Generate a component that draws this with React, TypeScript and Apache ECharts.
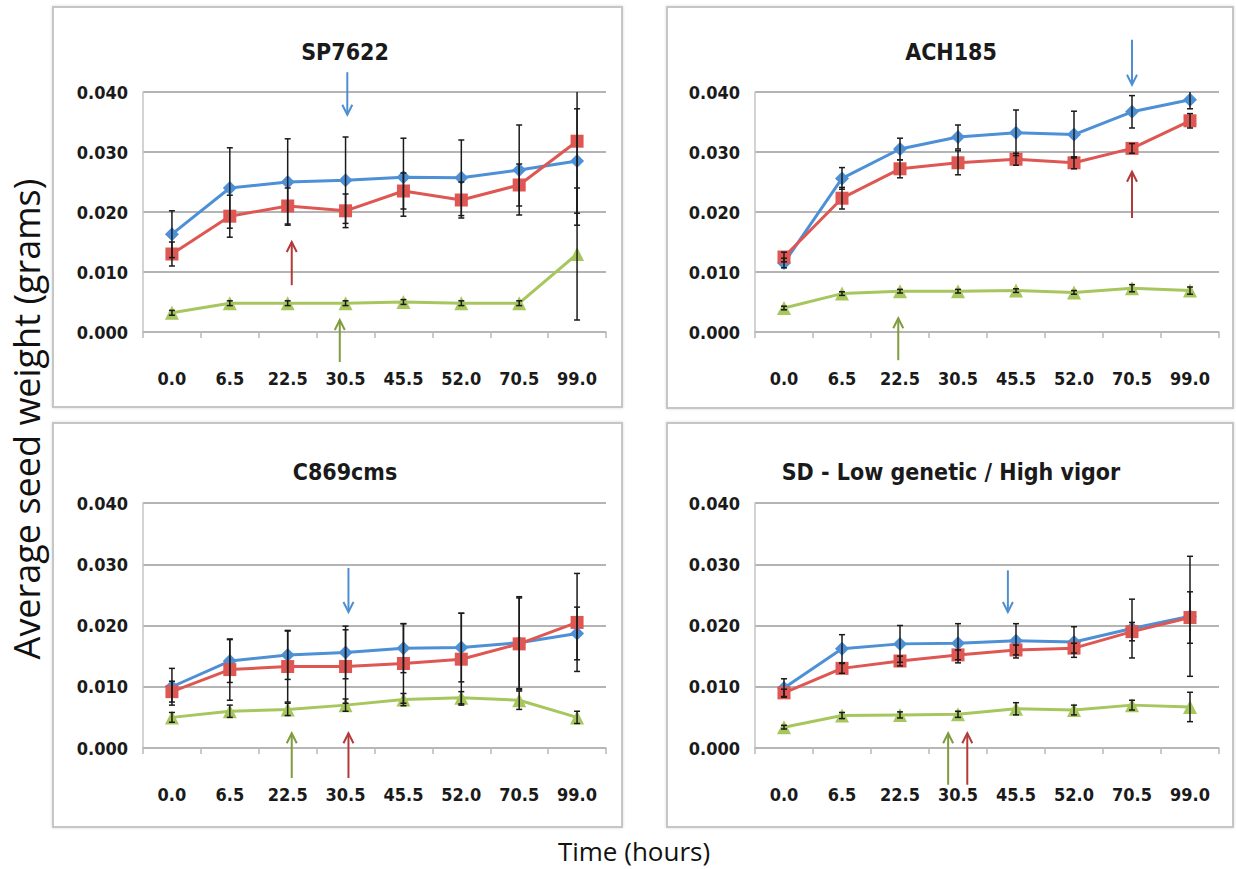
import React, { useEffect, useRef } from "react";
import * as echarts from "echarts";

// ---------- data ----------
const hours = ["0.0", "6.5", "22.5", "30.5", "45.5", "52.0", "70.5", "99.0"];

const panelTitles = ["SP7622", "ACH185", "C869cms", "SD - Low genetic / High vigor"];

// SP7622
const spBlue = [0.0163, 0.024, 0.025, 0.0253, 0.0258, 0.0257, 0.027, 0.0285];
const spBlueErr = [0.0039, 0.0067, 0.0072, 0.0072, 0.0065, 0.0063, 0.0075, 0.0087];
const spRed = [0.013, 0.0193, 0.021, 0.0202, 0.0235, 0.022, 0.0245, 0.0318];
const spRedErr = [0.002, 0.0035, 0.003, 0.0028, 0.003, 0.003, 0.0035, 0.014];
const spGreen = [0.0032, 0.0048, 0.0048, 0.0048, 0.005, 0.0048, 0.0048, 0.013];
const spGreenErr = [0.0004, 0.0004, 0.0004, 0.0004, 0.0004, 0.0004, 0.0004, 0.011];

// ACH185
const achBlue = [0.0115, 0.0256, 0.0305, 0.0325, 0.0332, 0.0329, 0.0367, 0.0387];
const achBlueErr = [0.0008, 0.0018, 0.0018, 0.002, 0.0038, 0.0039, 0.0027, 0.0015];
const achRed = [0.0125, 0.0223, 0.0272, 0.0282, 0.0288, 0.0282, 0.0306, 0.0352];
const achRedErr = [0.0008, 0.0018, 0.0015, 0.002, 0.001, 0.001, 0.0008, 0.0012];
const achGreen = [0.004, 0.0064, 0.0068, 0.0068, 0.0069, 0.0066, 0.0073, 0.0069];
const achGreenErr = [0.0003, 0.0003, 0.0003, 0.0003, 0.0003, 0.0003, 0.0006, 0.0006];

// C869cms
const cBlue = [0.01, 0.0142, 0.0152, 0.0156, 0.0163, 0.0164, 0.0172, 0.0187];
const cBlueErr = [0.003, 0.0035, 0.004, 0.0043, 0.004, 0.0056, 0.0075, 0.0043];
const cRed = [0.0092, 0.0128, 0.0133, 0.0133, 0.0138, 0.0145, 0.017, 0.0205];
const cRedErr = [0.0017, 0.005, 0.0058, 0.006, 0.0065, 0.0075, 0.0075, 0.008];
const cGreen = [0.005, 0.006, 0.0063, 0.007, 0.0079, 0.0082, 0.0078, 0.005];
const cGreenErr = [0.0008, 0.001, 0.001, 0.001, 0.001, 0.001, 0.0015, 0.001];

// SD - Low genetic / High vigor
const sdBlue = [0.0098, 0.0162, 0.017, 0.0171, 0.0175, 0.0173, 0.0195, 0.0215];
const sdBlueErr = [0.0015, 0.0023, 0.003, 0.0032, 0.0028, 0.0025, 0.0048, 0.0098];
const sdRed = [0.009, 0.013, 0.0142, 0.0152, 0.016, 0.0163, 0.019, 0.0213];
const sdRedErr = [0.0006, 0.0008, 0.0008, 0.0008, 0.0008, 0.0008, 0.0015, 0.0042];
const sdGreen = [0.0034, 0.0053, 0.0054, 0.0055, 0.0064, 0.0062, 0.007, 0.0067];
const sdGreenErr = [0.0003, 0.0005, 0.0005, 0.0005, 0.001, 0.0008, 0.0008, 0.0024];

// arrows: [category index, shift (fraction of band), tail value, head value, colour key]
const spArrows = [
  [3, 0.03, 0.0433, 0.0362, "b"],
  [2, 0.07, 0.0078, 0.015, "r"],
  [3, -0.1, -0.005, 0.002, "g"],
];
const achArrows = [
  [6, 0.0, 0.0487, 0.0412, "b"],
  [6, 0.0, 0.019, 0.0267, "r"],
  [2, -0.03, -0.0047, 0.0023, "g"],
];
const cArrows = [
  [3, 0.05, 0.0294, 0.0222, "b"],
  [2, 0.07, -0.0049, 0.0024, "g"],
  [3, 0.05, -0.0049, 0.0024, "r"],
];
const sdArrows = [
  [4, -0.14, 0.029, 0.0222, "b"],
  [3, -0.17, -0.006, 0.0024, "g"],
  [3, 0.16, -0.006, 0.0024, "r"],
];

// ---------- styling ----------
const BLUE = "#4d90d6";
const RED = "#de5752";
const GREEN = "#a7c65e";
const ARROW: Record<string, string> = { b: "#4f8fd0", r: "#b23b3a", g: "#7f9c3e" };
const FONT = "'Liberation Sans Narrow', 'DejaVu Sans Condensed', sans-serif";
const Y_MAX = 0.04;

const grids = [
  { left: 143, top: 92, width: 463, height: 240 },
  { left: 755, top: 92, width: 464, height: 240 },
  { left: 143, top: 503, width: 463, height: 245 },
  { left: 755, top: 503, width: 464, height: 245 },
];
const boxes = [
  { x: 53, y: 7, w: 569, h: 400 },
  { x: 667, y: 7, w: 566, h: 401 },
  { x: 53, y: 423, w: 569, h: 404 },
  { x: 667, y: 423, w: 566, h: 404 },
];
const titlePos = [
  { x: 345, y: 52 },
  { x: 951, y: 52 },
  { x: 345, y: 472 },
  { x: 951, y: 472 },
];

const panels = [
  { blue: spBlue, blueErr: spBlueErr, red: spRed, redErr: spRedErr, green: spGreen, greenErr: spGreenErr, arrows: spArrows },
  { blue: achBlue, blueErr: achBlueErr, red: achRed, redErr: achRedErr, green: achGreen, greenErr: achGreenErr, arrows: achArrows },
  { blue: cBlue, blueErr: cBlueErr, red: cRed, redErr: cRedErr, green: cGreen, greenErr: cGreenErr, arrows: cArrows },
  { blue: sdBlue, blueErr: sdBlueErr, red: sdRed, redErr: sdRedErr, green: sdGreen, greenErr: sdGreenErr, arrows: sdArrows },
];

function errorSeries(idx: number, vals: number[], errs: number[]) {
  return {
    type: "custom",
    xAxisIndex: idx,
    yAxisIndex: idx,
    z: 5,
    silent: true,
    data: vals.map((v, i) => [i, v, errs[i]]),
    renderItem: (params: any, api: any) => {
      const x = api.value(0);
      const v = api.value(1);
      const e = api.value(2);
      const hiV = Math.min(v + e, Y_MAX);
      const loV = Math.max(v - e, 0);
      const hi = api.coord([x, hiV]);
      const lo = api.coord([x, loV]);
      const w = 3;
      const st = { stroke: "#1a1a1a", lineWidth: 1.5 };
      const children: any[] = [
        { type: "line", shape: { x1: hi[0], y1: hi[1], x2: lo[0], y2: lo[1] }, style: st },
        { type: "line", shape: { x1: lo[0] - w, y1: lo[1], x2: lo[0] + w, y2: lo[1] }, style: st },
      ];
      if (v + e <= Y_MAX) {
        children.push({ type: "line", shape: { x1: hi[0] - w, y1: hi[1], x2: hi[0] + w, y2: hi[1] }, style: st });
      }
      return { type: "group", children };
    },
  };
}

function arrowSeries(idx: number, arrows: any[]) {
  return {
    type: "custom",
    xAxisIndex: idx,
    yAxisIndex: idx,
    z: 6,
    silent: true,
    clip: false,
    data: arrows.map((a) => [a[0], a[1], a[2], a[3]]),
    renderItem: (params: any, api: any) => {
      const a = arrows[params.dataIndex];
      const color = ARROW[a[4]];
      const cat = api.value(0);
      const shift = api.value(1);
      const band = api.size([1, 0])[0];
      const tail = api.coord([cat, api.value(2)]);
      const head = api.coord([cat, api.value(3)]);
      const x = tail[0] + shift * band;
      const dir = head[1] < tail[1] ? 1 : -1; // 1: pointing up
      const hw = 5;
      const hl = 10;
      return {
        type: "group",
        children: [
          { type: "line", shape: { x1: x, y1: tail[1], x2: x, y2: head[1] }, style: { stroke: color, lineWidth: 2 } },
          {
            type: "polyline",
            shape: { points: [[x - hw, head[1] + dir * hl], [x, head[1]], [x + hw, head[1] + dir * hl]] },
            style: { stroke: color, lineWidth: 2, fill: "none" },
          },
        ],
      };
    },
  };
}

function lineSeries(idx: number, vals: number[], color: string, symbol: string, size: number) {
  return {
    type: "line",
    xAxisIndex: idx,
    yAxisIndex: idx,
    data: vals,
    symbol,
    symbolSize: size,
    z: 3,
    lineStyle: { color, width: 3 },
    itemStyle: { color, opacity: 1 },
  };
}

export default function App() {
  const ref = useRef<HTMLDivElement>(null);
  useEffect(() => {
    if (!ref.current) return;
    const chart = echarts.init(ref.current, undefined, { renderer: "svg" });

    const series: any[] = [];
    panels.forEach((p, i) => {
      series.push(lineSeries(i, p.blue, BLUE, "diamond", 14));
      series.push(lineSeries(i, p.red, RED, "rect", 13));
      series.push(lineSeries(i, p.green, GREEN, "triangle", 14));
      series.push(errorSeries(i, p.blue, p.blueErr));
      series.push(errorSeries(i, p.red, p.redErr));
      series.push(errorSeries(i, p.green, p.greenErr));
      series.push(arrowSeries(i, p.arrows));
    });

    const graphic: any[] = [];
    boxes.forEach((b) => {
      graphic.push({
        type: "rect",
        z: -10,
        silent: true,
        shape: { x: b.x, y: b.y, width: b.w, height: b.h },
        style: { fill: "#fff", stroke: "#c6c6c6", lineWidth: 2, shadowBlur: 3, shadowColor: "rgba(0,0,0,0.15)" },
      });
    });
    panelTitles.forEach((t, i) => {
      graphic.push({
        type: "text",
        x: titlePos[i].x,
        y: titlePos[i].y,
        style: {
          text: t,
          font: `bold 23px ${FONT}`,
          fill: "#1a1a1a",
          textAlign: "center",
          textVerticalAlign: "middle",
        },
      });
    });
    graphic.push({
      type: "text",
      x: 26,
      y: 419,
      rotation: Math.PI / 2,
      style: {
        text: "Average seed weight (grams)",
        font: "36px 'Open Sans', sans-serif",
        fill: "#111",
        textAlign: "center",
        textVerticalAlign: "middle",
      },
    });
    graphic.push({
      type: "text",
      x: 634,
      y: 851,
      style: {
        text: "Time (hours)",
        font: "26px 'Open Sans', sans-serif",
        fill: "#111",
        textAlign: "center",
        textVerticalAlign: "middle",
      },
    });

    chart.setOption({
      animation: false,
      backgroundColor: "#fff",
      grid: grids.map((g) => ({ ...g })),
      xAxis: grids.map((_, i) => ({
        type: "category",
        gridIndex: i,
        data: hours,
        boundaryGap: true,
        axisLine: { show: true, lineStyle: { color: "#b8b8b8", width: 1.5 } },
        axisTick: { show: true, length: 6, lineStyle: { color: "#b8b8b8", width: 1.5 } },
        axisLabel: { margin: 37, fontFamily: FONT, fontWeight: "bold", fontSize: 18, color: "#1a1a1a" },
        splitLine: { show: false },
      })),
      yAxis: grids.map((_, i) => ({
        type: "value",
        gridIndex: i,
        min: 0,
        max: Y_MAX,
        interval: 0.01,
        axisLine: { show: true, lineStyle: { color: "#c4c4c4", width: 1.5 } },
        axisTick: { show: false },
        axisLabel: {
          margin: 15,
          fontFamily: FONT,
          fontWeight: "bold",
          fontSize: 18,
          color: "#1a1a1a",
          formatter: (v: number) => v.toFixed(3),
        },
        splitLine: { show: true, lineStyle: { color: "#b4b4b4", width: 2 } },
      })),
      graphic,
      series,
    });
    return () => chart.dispose();
  }, []);
  return (
    <div
      ref={ref}
      style={{ position: "absolute", left: 0, top: 0, width: 1236, height: 869, background: "#fff" }}
    />
  );
}
